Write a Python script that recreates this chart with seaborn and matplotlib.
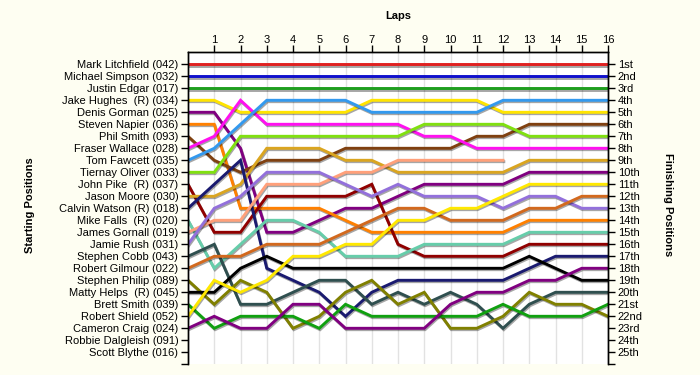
import matplotlib
matplotlib.use("Agg")
import matplotlib.pyplot as plt
import matplotlib.patheffects as pe
import numpy as np
import pandas as pd
import seaborn as sns

# ---------------- data ----------------
laps = list(range(0, 17))

drivers = [
    "Mark Litchfield (042)", "Michael Simpson (032)", "Justin Edgar (017)",
    "Jake Hughes  (R) (034)", "Denis Gorman (025)", "Steven Napier (036)",
    "Phil Smith (093)", "Fraser Wallace (028)", "Tom Fawcett (035)",
    "Tiernay Oliver (033)", "John Pike  (R) (037)", "Jason Moore (030)",
    "Calvin Watson (R) (018)", "Mike Falls  (R) (020)", "James Gornall (019)",
    "Jamie Rush (031)", "Stephen Cobb (043)", "Robert Gilmour (022)",
    "Stephen Philip (089)", "Matty Helps  (R) (045)", "Brett Smith (039)",
    "Robert Shield (052)", "Cameron Craig (024)", "Robbie Dalgleish (091)",
    "Scott Blythe (016)",
]

finish_labels = ["1st", "2nd", "3rd"] + [f"{i}th" for i in range(4, 21)] + \
    ["21st", "22nd", "23rd", "24th", "25th"]

nan = np.nan
pos_litchfield = [1] * 17
pos_simpson = [2] * 17
pos_edgar = [3] * 17
pos_hughes = [4, 4, 5, 5, 5, 5, 5, 4, 4, 4, 4, 4, 5, 5, 5, 5, 5]
pos_gorman = [5, 5, 8, 15, 15, 14, 13, 13, 12, 11, 11, 11, 11, 10, 10, 10, 10]
pos_napier = [6, 6, 13, 13, 13, 13, 14, 15, 15, 15, 15, 15, 15, 14, 14, 14, 14]
pos_psmith = [7, 9, 10, 9, 9, 9, 8, 8, 8, 8, 8, 7, 7, 6, 6, 6, 6]
pos_wallace = [8, 7, 4, 6, 6, 6, 6, 6, 6, 7, 7, 8, 8, 8, 8, 8, 8]
pos_fawcett = [9, 8, 6, 4, 4, 4, 4, 5, 5, 5, 5, 5, 4, 4, 4, 4, 4]
pos_oliver = [10, 10, 7, 7, 7, 7, 7, 7, 7, 6, 6, 6, 6, 7, 7, 7, 7]
pos_pike = [11, 15, 15, 12, 12, 12, 12, 11, 16, 17, 17, 17, 17, 16, 16, 16, 16]
pos_moore = [12, 12, 11, 8, 8, 8, 9, 9, 10, 10, 10, 10, 10, 9, 9, 9, 9]
pos_watson = [13, 11, 9, 18, 19, 20, 22, 20, 19, 19, 19, 19, 19, 18, 17, 17, 17]
pos_falls = [14, 18, 16, 14, 14, 15, 17, 17, 17, 16, 16, 16, 16, 15, 15, 15, 15]
pos_gornall = [15, 14, 14, 11, 11, 11, 10, 10, 9, 9, 9, 9, 9, nan, nan, nan, nan]
pos_rush = [16, 13, 12, 10, 10, 10, 11, 12, 11, 12, 12, 12, 13, 12, 12, 13, 13]
pos_cobb = [17, 16, 21, 21, 20, 19, 19, 21, 20, 21, 20, 21, 23, 21, 20, 20, 20]
pos_gilmour = [18, 17, 17, 16, 16, 16, 15, 14, 13, 13, 14, 14, 14, 13, 13, 12, 12]
pos_philip = [19, 21, 19, 20, 23, 22, 20, 19, 21, 20, 23, 23, 22, 20, 21, 21, 22]
pos_helps = [20, 20, 18, 17, 18, 18, 18, 18, 18, 18, 18, 18, 18, 17, 18, 19, 19]
pos_bsmith = [21, 23, 22, 22, 22, 23, 21, 22, 22, 22, 22, 22, 21, 22, 22, 22, 21]
pos_shield = [22, 19, 20, 19, 17, 17, 16, 16, 14, 14, 13, 13, 12, 11, 11, 11, 11]
pos_craig = [23, 22, 23, 23, 21, 21, 23, 23, 23, 23, 21, 20, 20, 19, 19, 18, 18]

series = [pos_litchfield, pos_simpson, pos_edgar, pos_hughes, pos_gorman,
          pos_napier, pos_psmith, pos_wallace, pos_fawcett, pos_oliver,
          pos_pike, pos_moore, pos_watson, pos_falls, pos_gornall, pos_rush,
          pos_cobb, pos_gilmour, pos_philip, pos_helps, pos_bsmith,
          pos_shield, pos_craig]

line_colors = ["#E02020", "#1010CC", "#1E9E1E", "#FFE400", "#800080",
               "#FF8000", "#7F4010", "#FF10F0", "#3399EE", "#80E010",
               "#900000", "#DAA520", "#1A1A70", "#66CDAA", "#FFA07A",
               "#9370DB", "#2F4F4F", "#D2691E", "#808000", "#000000",
               "#10A010", "#FFE800", "#800080"]

# ---------------- build long table ----------------
rows = []
for name, vals in zip(drivers, series):
    for lap, p in zip(laps, vals):
        rows.append({"driver": name, "lap": lap, "pos": p})
df = pd.DataFrame(rows).dropna()
palette = dict(zip(drivers[:len(series)], line_colors))

# ---------------- plot ----------------
fig = plt.figure(figsize=(7, 3.75), dpi=100, facecolor="#FEFEF2")
ax = fig.add_axes([188 / 700, 1 - 364.3 / 375, 420 / 700, 312 / 375])
ax.set_facecolor("white")

sns.lineplot(data=df, x="lap", y="pos", hue="driver",
             hue_order=drivers[:len(series)], palette=palette,
             estimator=None, sort=False, legend=False, linewidth=2.1, ax=ax)

for ln in ax.lines:
    ln.set_path_effects([pe.SimpleLineShadow(offset=(0.6, -1.0), shadow_color="black", alpha=0.35),
                         pe.Normal()])
    ln.set_solid_joinstyle("miter")

ax.set_xlim(0, 16)
ax.set_ylim(26, 0)

# top x axis
ax.xaxis.tick_top()
ax.xaxis.set_label_position("top")
ax.set_xticks(range(1, 17))
ax.set_xticklabels([str(i) for i in range(1, 17)])
ax.set_xlabel("Laps", fontweight="bold", fontsize=8, labelpad=11, family="Liberation Sans")
ax.grid(axis="x", color="#E2E2E2", linewidth=1)
ax.grid(axis="y", visible=False)
ax.set_axisbelow(True)

# left y axis
ax.set_yticks(range(1, 27))
ax.set_yticklabels(drivers + [""])
ax.set_ylabel("")
ax.tick_params(axis="both", direction="out", length=5, width=1, color="black",
               labelsize=8, pad=2)
ax.tick_params(axis="x", pad=0.5)
for lbl in ax.get_yticklabels() + ax.get_xticklabels():
    lbl.set_family("Liberation Sans")

# right y axis
ax2 = ax.twinx()
ax2.set_ylim(26, 0)
ax2.set_yticks(range(1, 27))
ax2.set_yticklabels(finish_labels + [""])
ax2.tick_params(axis="y", direction="out", length=5, width=1, labelsize=8, pad=2)
for lbl in ax2.get_yticklabels():
    lbl.set_family("Liberation Sans")

for a in (ax, ax2):
    a.spines["bottom"].set_visible(False)
    for s in ("left", "right", "top"):
        a.spines[s].set_color("black")
        a.spines[s].set_linewidth(1)

fig.text(30 / 700, 1 - 205 / 375, "Starting Positions", rotation=90,
         ha="center", va="center", fontweight="bold", fontsize=8, family="Liberation Sans")
fig.text(668 / 700, 1 - 205 / 375, "Finishing Positions", rotation=270,
         ha="center", va="center", fontweight="bold", fontsize=8, family="Liberation Sans")

fig.savefig("out.png", dpi=100, facecolor=fig.get_facecolor())
